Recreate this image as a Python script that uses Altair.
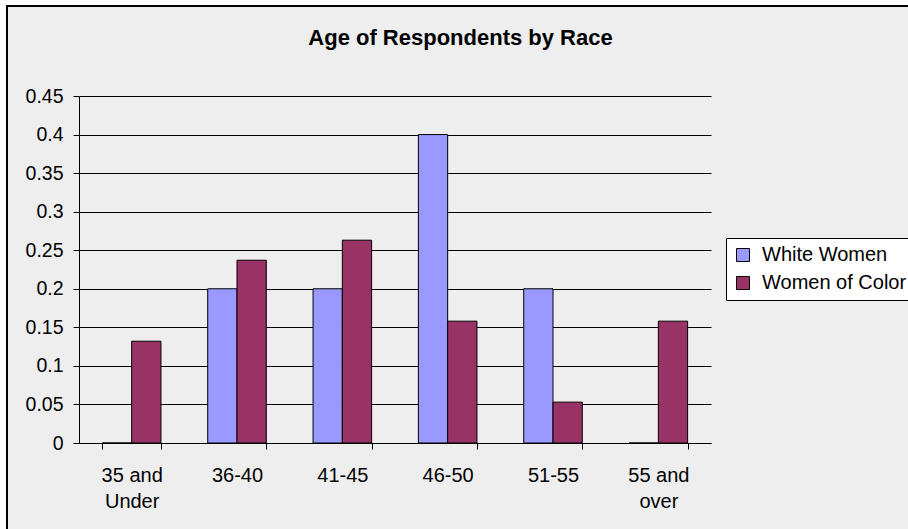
import altair as alt
import pandas as pd

# Age groups and the share of respondents in each, by race
age_groups = ["35 and Under", "36-40", "41-45", "46-50", "51-55", "55 and over"]
white_women = [0.0, 0.2, 0.2, 0.4, 0.2, 0.0]
women_of_color = [0.132, 0.237, 0.263, 0.158, 0.053, 0.158]

series_names = ["White Women", "Women of Color"]
series_colors = ["#9999FF", "#993366"]
y_ticks = [0, 0.05, 0.1, 0.15, 0.2, 0.25, 0.3, 0.35, 0.4, 0.45]
chart_title = "Age of Respondents by Race"

FONT = "Liberation Sans"

rows = []
for name, vals in zip(series_names, [white_women, women_of_color]):
    for grp, val in zip(age_groups, vals):
        rows.append({"age": grp, "race": name, "share": val})
df = pd.DataFrame(rows)

W, H = 632, 347
PAD = {"left": 79, "top": 96, "right": 908 - 79 - W, "bottom": 529 - 96 - H}

bars = (
    alt.Chart(df)
    .mark_bar(stroke="black", strokeWidth=1)
    .encode(
        x=alt.X(
            "age:N",
            sort=age_groups,
            scale=alt.Scale(paddingInner=0.444, paddingOuter=0.222),
            axis=alt.Axis(
                title=None,
                labelAngle=0,
                tickBand="extent",
                tickSize=6,
                labelPadding=16,
                labelFontSize=20,
                labelLineHeight=26,
                labelBaseline="top",
                labelExpr="split(replace(datum.label, ' and ', ' and|'), '|')",
                grid=False,
            ),
        ),
        xOffset=alt.XOffset("race:N", sort=series_names),
        y=alt.Y(
            "share:Q",
            scale=alt.Scale(domain=[0, 0.45], nice=False),
            axis=alt.Axis(
                title=None,
                values=y_ticks,
                format="~g",
                grid=True,
                gridColor="black",
                gridWidth=1,
                gridOpacity=1,
                tickSize=6,
                labelPadding=10,
                labelFontSize=19.5,
            ),
        ),
        color=alt.Color(
            "race:N",
            scale=alt.Scale(domain=series_names, range=series_colors),
            legend=alt.Legend(
                title=None,
                orient="none",
                legendX=647,
                legendY=142,
                fillColor="white",
                strokeColor="black",
                padding=7,
                symbolType="square",
                symbolSize=169,
                symbolStrokeColor="black",
                symbolStrokeWidth=1,
                labelFontSize=20,
                labelFont=FONT,
                labelColor="black",
                labelOffset=9,
                rowPadding=8,
            ),
        ),
    )
)

# White margin around the chart area and its black frame
single = pd.DataFrame({"k": [0]})
white_left = alt.Chart(single).mark_rect(color="white").encode(
    x=alt.value(-80), x2=alt.value(-72), y=alt.value(-97), y2=alt.value(H + 90)
)
white_top = alt.Chart(single).mark_rect(color="white").encode(
    x=alt.value(-80), x2=alt.value(W + 200), y=alt.value(-97), y2=alt.value(-90)
)
frame = alt.Chart(single).mark_rect(
    filled=False, stroke="black", strokeWidth=2
).encode(
    x=alt.value(-72), x2=alt.value(W + 250), y=alt.value(-90), y2=alt.value(H + 150)
)

# Chart heading, centred over the whole chart area
heading = alt.Chart(single).mark_text(
    text=chart_title,
    font=FONT,
    fontSize=22,
    fontWeight="bold",
    color="black",
    align="center",
    baseline="alphabetic",
).encode(x=alt.value(381.5), y=alt.value(-51))

chart = (
    alt.layer(white_left, white_top, frame, heading, bars)
    .properties(
        width=W,
        height=H,
        padding=PAD,
        autosize=alt.AutoSizeParams(type="none"),
    )
    .configure(background="#EEEEEE")
    .configure_view(stroke=None)
    .configure_axis(
        labelFont=FONT,
        labelColor="black",
        domainColor="black",
        domainWidth=1,
        tickColor="black",
        tickWidth=1,
    )
)

chart.save("out.html", embed_options={"renderer": "svg", "actions": False})
